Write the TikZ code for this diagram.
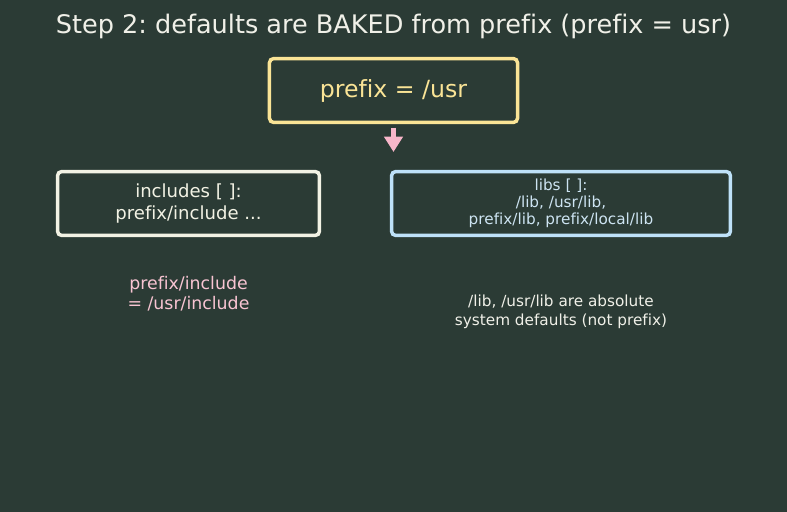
\documentclass[tikz,border=0pt]{standalone}
\usepackage{fontspec}
\setmainfont{DejaVu Sans}[Ligatures={NoCommon}]
\usepackage{xcolor}
\usetikzlibrary{arrows.meta,positioning}
\definecolor{bgdark}{RGB}{43,59,53}
\definecolor{titlewhite}{RGB}{240,240,232}
\definecolor{prefyellow}{RGB}{250,228,150}
\definecolor{incwhite}{RGB}{242,242,228}
\definecolor{libblue}{RGB}{190,225,248}
\definecolor{libtext}{RGB}{205,228,242}
\definecolor{notepink}{RGB}{248,196,210}
\definecolor{arrpink}{RGB}{248,182,202}
\tikzset{
  box/.style={draw,line width=2.5pt,rounded corners=3pt,align=center,
              fill=bgdark,minimum height=46pt,inner sep=0pt},
  pbox/.style={box,draw=prefyellow,text=prefyellow,
               font=\fontsize{17}{20}\selectfont,minimum width=178.6pt},
  ibox/.style={box,draw=incwhite,text=incwhite,
               font=\fontsize{13}{15.8}\selectfont,minimum width=188.6pt},
  lbox/.style={box,draw=libblue,text=libtext,
               font=\fontsize{11}{12.3}\selectfont,minimum width=244pt},
  note/.style={align=center,font=\fontsize{11}{13.7}\selectfont},
  arr/.style={-{Triangle[length=11pt,width=13pt]},line width=3.6pt,draw=arrpink},
}
\frenchspacing
\begin{document}
\begin{tikzpicture}[x=0.72pt,y=-0.72pt]
\fill[bgdark] (0,0) rectangle (787,512);
\node[text=titlewhite,font=\fontsize{18.4}{22}\selectfont] (title) at (393.5,26) {Step 2: defaults are BAKED from prefix (prefix = usr)};
% boxes
\node[pbox] (prefix) at (393.5,90.5) {prefix = /usr};
\node[ibox] (includes) at (188.5,203.5) {includes [ ]:\\prefix/include ...};
\node[lbox] (libs) at (561,203.5) {libs [ ]:\\/lib, /usr/lib,\\prefix/lib, prefix/local/lib};
% arrow
\coordinate (arrowend) at (393.5,152);
\draw[arr,shorten <=2.5pt] (prefix) -- (arrowend);
% notes
\node[note,text=notepink,font=\fontsize{12.5}{14.4}\selectfont] (incnote) at (188.5,294) {prefix/include\\= /usr/include};
\node[note,text=titlewhite] (libnote) at (561,312) {/lib, /usr/lib are absolute\\system defaults (not prefix)};
\end{tikzpicture}
\end{document}
